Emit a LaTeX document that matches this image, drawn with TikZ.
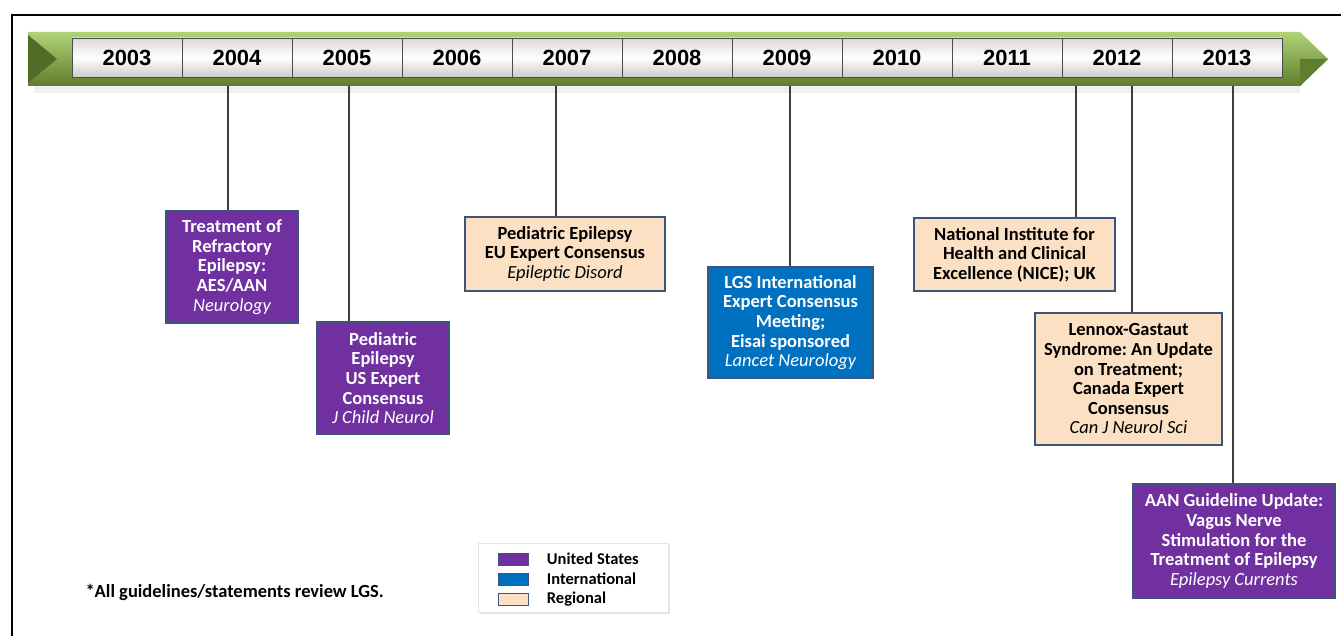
\documentclass[tikz,border=0pt]{standalone}
\usepackage{fontspec}
\setmainfont{Carlito}
\newfontfamily\yearfont{Liberation Sans}
\usetikzlibrary{positioning,shadows}
\frenchspacing

\definecolor{uspurple}{RGB}{112,48,160}
\definecolor{intblue}{RGB}{0,112,192}
\definecolor{regpeach}{RGB}{251,224,196}
\definecolor{boxline}{RGB}{62,84,124}
\definecolor{bandlight}{RGB}{176,210,118}
\definecolor{bandmid}{RGB}{122,154,64}
\definecolor{banddark}{RGB}{96,126,46}
\definecolor{stemgray}{RGB}{64,64,64}

\newcommand\jname[1]{{\mdseries\itshape #1}}

\begin{document}
\begin{tikzpicture}[x=1pt,y=-1pt,
        yearcell/.style={
            rectangle,
            draw=gray!60!black, line width=0.8pt,
            top color=gray!30, bottom color=gray!40, middle color=white,
            minimum width=110pt,
            minimum height=39pt,
            inner sep=0pt, outer sep=0pt,
            font=\yearfont\bfseries\fontsize{22}{24}\selectfont},
        event/.style={
            rectangle,
            draw=boxline, line width=1.2pt,
            align=center,
            inner sep=3pt,
            font=\bfseries\fontsize{18.5}{19.6}\selectfont},
        usbox/.style={event, fill=uspurple, text=white},
        intbox/.style={event, fill=intblue, text=white},
        regbox/.style={event, fill=regpeach, text=black},
        stem/.style={
            draw=stemgray,
            line width=1.6pt},
        swatch/.style={
            rectangle,
            draw=boxline, line width=0.8pt,
            minimum width=30pt,
            minimum height=12pt,
            inner sep=0pt},
        keylabel/.style={
            font=\bfseries\fontsize{16.5}{18}\selectfont}
        ]
    \useasboundingbox (0,0) rectangle (1341,636);
    \draw [line width=2.2pt] (12,636) -- (12,15) -- (1341,15);

    % timeline band
    \fill [gray!12] (34,86) rectangle (1300,93);
    \shade [top color=bandlight, middle color=bandmid, bottom color=banddark]
        (28,32) -- (1300,32) -- (1328,59) -- (1300,86) -- (28,86) -- cycle;
    \fill [banddark!85!black] (28,35) -- (57,59) -- (28,83) -- cycle;
    \fill [banddark] (1300,59) -- (1328,59) -- (1300,86) -- cycle;

    \node (y2003) [yearcell] at (127,57.5) {2003};
    \node (y2004) [yearcell, right=0pt of y2003] {2004};
    \node (y2005) [yearcell, right=0pt of y2004] {2005};
    \node (y2006) [yearcell, right=0pt of y2005] {2006};
    \node (y2007) [yearcell, right=0pt of y2006] {2007};
    \node (y2008) [yearcell, right=0pt of y2007] {2008};
    \node (y2009) [yearcell, right=0pt of y2008] {2009};
    \node (y2010) [yearcell, right=0pt of y2009] {2010};
    \node (y2011) [yearcell, right=0pt of y2010] {2011};
    \node (y2012) [yearcell, right=0pt of y2011] {2012};
    \node (y2013) [yearcell, right=0pt of y2012] {2013};

    % events
    \node (refract) [usbox, minimum width=132pt, minimum height=112pt] at (232,267)
        {Treatment of\\Refractory\\Epilepsy:\\AES/AAN\\\jname{Neurology}};
    \node (usped) [usbox, minimum width=132pt, minimum height=112pt] at (383,378)
        {Pediatric\\Epilepsy\\US Expert\\Consensus\\\jname{J Child Neurol}};
    \node (euped) [regbox, minimum width=200pt, minimum height=74pt] at (565,254)
        {Pediatric Epilepsy\\EU Expert Consensus\\\jname{Epileptic Disord}};
    \node (lgsint) [intbox, minimum width=165pt, minimum height=111pt] at (790.5,322.5)
        {LGS International\\Expert Consensus\\Meeting;\\Eisai sponsored\\\jname{Lancet Neurology}};
    \node (nice) [regbox, minimum width=201pt, minimum height=73pt] at (1014.5,254.5)
        {National Institute for\\Health and Clinical\\Excellence (NICE); UK};
    \node (canada) [regbox, minimum width=187pt, minimum height=132pt] at (1128.5,379)
        {Lennox-Gastaut\\Syndrome: An Update\\on Treatment;\\Canada Expert\\Consensus\\\jname{Can J Neurol Sci}};
    \node (vagus) [usbox, minimum width=202pt, minimum height=114pt] at (1234,541)
        {AAN Guideline Update:\\Vagus Nerve\\Stimulation for the\\Treatment of Epilepsy\\\jname{Epilepsy Currents}};

    \coordinate (t2004) at (228,86);
    \coordinate (t2005) at (349,86);
    \coordinate (t2007) at (556,86);
    \coordinate (t2009) at (790,86);
    \coordinate (t2011) at (1076,86);
    \coordinate (t2012) at (1132,86);
    \coordinate (t2013) at (1233,86);

    \draw [stem] (t2004) -- (t2004 |- refract.north);
    \draw [stem] (t2005) -- (t2005 |- usped.north);
    \draw [stem] (t2007) -- (t2007 |- euped.north);
    \draw [stem] (t2009) -- (t2009 |- lgsint.north);
    \draw [stem] (t2011) -- (t2011 |- nice.north);
    \draw [stem] (t2012) -- (t2012 |- canada.north);
    \draw [stem] (t2013) -- (t2013 |- vagus.north);

    % legend
    \node (legend) [rectangle, draw=gray!20, fill=white,
        drop shadow={opacity=0.25, shadow xshift=2pt, shadow yshift=-2pt},
        minimum width=190pt, minimum height=69pt] at (573,577.5) {};
    \node (swus) [swatch, fill=uspurple] at (513,559) {};
    \node (swint) [swatch, fill=intblue] at (513,579) {};
    \node (swreg) [swatch, fill=regpeach] at (513,599) {};
    \node (keyus) [keylabel, right=15pt of swus] {United States};
    \node (keyint) [keylabel, right=15pt of swint] {International};
    \node (keyreg) [keylabel, right=15pt of swreg] {Regional};

    \node (note) [anchor=west, font=\bfseries\fontsize{18.5}{20}\selectfont] at (82,592)
        {*All guidelines/statements review LGS.};

\end{tikzpicture}
\end{document}
